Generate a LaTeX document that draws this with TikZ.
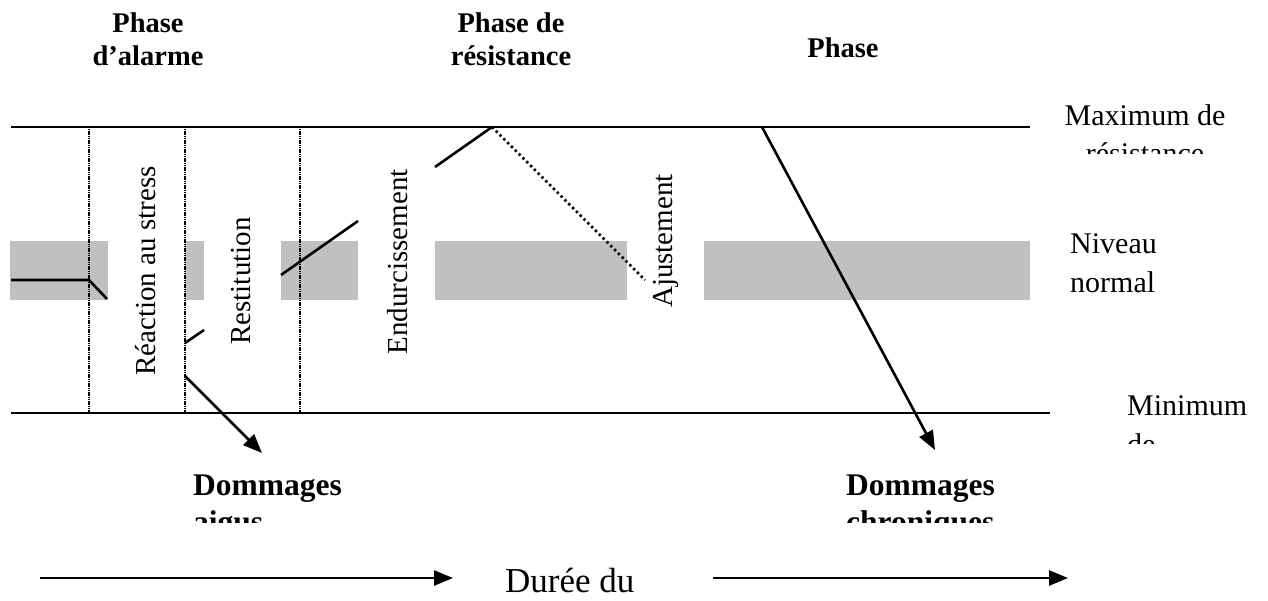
\documentclass[tikz,border=0pt]{standalone}
\usepackage{fontspec}
\setmainfont{Liberation Serif}
\usetikzlibrary{arrows.meta}
\definecolor{band}{RGB}{192,192,192}
\begin{document}
\begin{tikzpicture}[x=1pt,y=-1pt,
  lbl/.style={inner sep=0pt, font=\fontsize{30}{36}\selectfont},
  rot/.style={inner sep=0pt, rotate=90, anchor=base, font=\fontsize{29}{34}\selectfont},
  hdr/.style={inner sep=0pt, anchor=base, font=\bfseries\fontsize{28.5}{33}\selectfont},
  dmg/.style={inner sep=0pt, anchor=base west, font=\bfseries\fontsize{31.5}{36}\selectfont},
  bound/.style={line width=2.6pt},
  sep/.style={line width=1.6pt, dash pattern=on 1.2pt off 0.6pt},
  curve/.style={line width=2.6pt},
  adjust/.style={line width=2.6pt, dash pattern=on 2.4pt off 3pt},
  arr/.style={line width=2.6pt, -{Triangle[length=19pt,width=15pt]}},
  ]
\useasboundingbox (0,0) rectangle (1268,600);

% grey band (normal level)
\fill[band] (10,241) rectangle (108,300);
\fill[band] (185,241) rectangle (204,300);
\fill[band] (281,241) rectangle (358,300);
\fill[band] (435,241) rectangle (627,300);
\fill[band] (704,241) rectangle (1030,300);

% coordinates
\coordinate (TL) at (11,127);
\coordinate (TR) at (1030,127);
\coordinate (BL) at (11,413);
\coordinate (BR) at (1050,413);
\coordinate (v1t) at (89,127);  \coordinate (v1b) at (89,413);
\coordinate (v2t) at (185,127); \coordinate (v2b) at (185,413);
\coordinate (v3t) at (300,127); \coordinate (v3b) at (300,413);
\coordinate (c0) at (11,280);
\coordinate (c1) at (89,280);
\coordinate (c2) at (107,299);
\coordinate (c3) at (185,343);
\coordinate (c4) at (204,330);
\coordinate (c5) at (281,275);
\coordinate (c6) at (358,221);
\coordinate (c7) at (435,167);
\coordinate (peak) at (492,127);
\coordinate (c8) at (645,280);
\coordinate (a1s) at (185,376);
\coordinate (a1e) at (262,453);
\coordinate (a2s) at (762,127);
\coordinate (a2e) at (935,450);
\coordinate (t1s) at (40,578);
\coordinate (t1e) at (453,578);
\coordinate (t2s) at (713,578);
\coordinate (t2e) at (1068,578);

% limits
\draw[bound] (TL) -- (TR);
\draw[bound] (BL) -- (BR);
\draw[sep] (v1t) -- (v1b);
\draw[sep] (v2t) -- (v2b);
\draw[sep] (v3t) -- (v3b);

% resistance curve
\draw[curve] (c0) -- (c1) -- (c2);
\draw[curve] (c3) -- (c4);
\draw[curve] (c5) -- (c6);
\draw[curve] (c7) -- (peak);
\draw[adjust] (peak) -- (c8);
\draw[arr] (a1s) -- (a1e);
\draw[arr] (a2s) -- (a2e);

% time arrows
\draw[arr] (t1s) -- (t1e);
\draw[arr] (t2s) -- (t2e);

% headers
\node[hdr] (h1a) at (148,32) {Phase};
\node[hdr] (h1b) at (148,65) {d’alarme};
\node[hdr] (h2a) at (511,32) {Phase de};
\node[hdr] (h2b) at (511,65) {résistance};
\node[hdr] (h3) at (843,57) {Phase};

% vertical labels
\node[rot] (r1) at (155,271) {Réaction au stress};
\node[rot] (r2) at (250,281) {Restitution};
\node[rot] (r3) at (407,262) {Endurcissement};
\node[rot] (r4) at (672,241) {Ajustement};

% right labels
\node[lbl, anchor=base] (mx1) at (1145,125) {Maximum de};
\begin{scope}
\clip (1040,130) rectangle (1268,153);
\node[lbl, anchor=base] (mx2) at (1145,163) {résistance};
\end{scope}
\node[lbl, anchor=base west] (nv1) at (1070,253) {Niveau};
\node[lbl, anchor=base west] (nv2) at (1070,292) {normal};
\node[lbl, anchor=base west] (mn1) at (1127,415) {Minimum};
\begin{scope}
\clip (1100,420) rectangle (1268,443);
\node[lbl, anchor=base west] (mn2) at (1127,454) {de};
\end{scope}

% damages
\node[dmg] (d1) at (193,495) {Dommages};
\begin{scope}
\clip (180,502) rectangle (420,522);
\node[dmg] (d1b) at (193,532) {aigus};
\end{scope}
\node[dmg] (d2) at (846,495) {Dommages};
\begin{scope}
\clip (830,502) rectangle (1060,522);
\node[dmg] (d2b) at (846,532) {chroniques};
\end{scope}

% duration
\node[inner sep=0pt, anchor=base west, font=\fontsize{35}{40}\selectfont] (du) at (505,592) {Durée du};
\end{tikzpicture}
\end{document}
